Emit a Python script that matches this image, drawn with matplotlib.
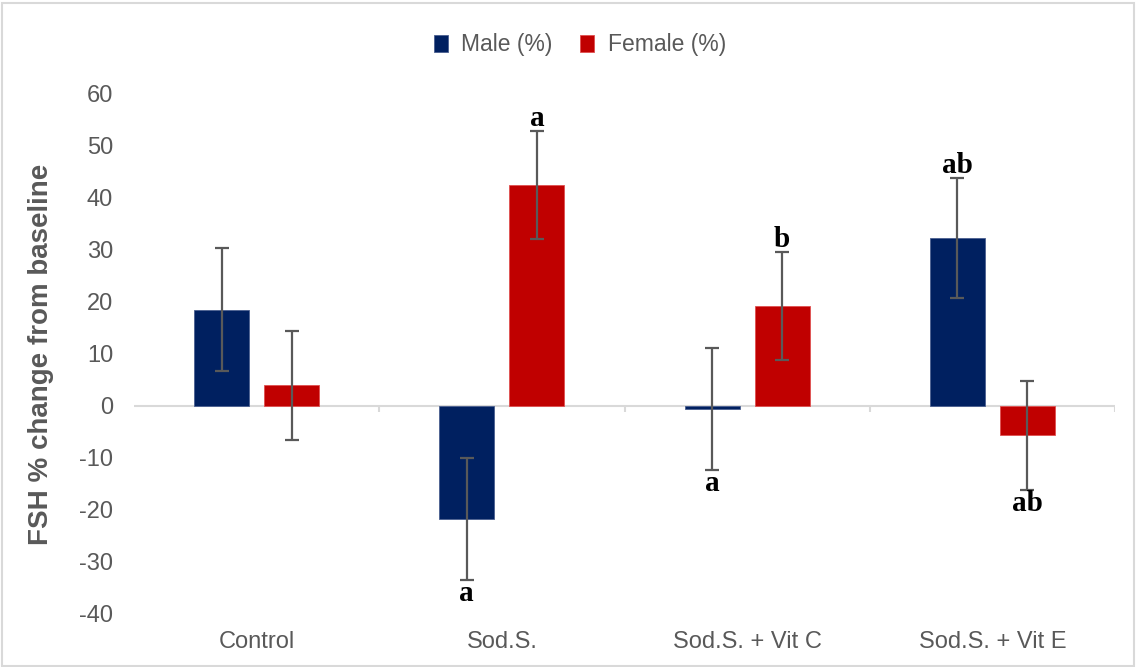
import matplotlib
matplotlib.use("Agg")
import matplotlib.pyplot as plt
from matplotlib.patches import Rectangle
import numpy as np

categories = ["Control", "Sod.S.", "Sod.S. + Vit C", "Sod.S. + Vit E"]
male = [18.5, -21.7, -0.6, 32.3]
male_err = [11.8, 11.7, 11.7, 11.6]
female = [4.0, 42.5, 19.2, -5.6]
female_err = [10.5, 10.4, 10.4, 10.5]
male_labels = ["", "a", "a", "ab"]
female_labels = ["", "a", "b", "ab"]
yticks = [-40, -30, -20, -10, 0, 10, 20, 30, 40, 50, 60]

plt.rcParams['font.family'] = ['Liberation Sans', 'DejaVu Sans']
W, H = 1136, 667
fig = plt.figure(figsize=(W / 100, H / 100), dpi=100)
ax = fig.add_axes([134 / W, 1 - 614 / H, (1115 - 134) / W, (614 - 94) / H])

x = np.arange(len(categories))
bw = 0.224
off = 0.143
gray = "#595959"
c_m, c_f = "#002060", "#C00000"

ax.bar(x - off, male, bw, color=c_m, edgecolor="#4a5f8f", linewidth=0.6, label="Male (%)", zorder=2)
ax.bar(x + off, female, bw, color=c_f, edgecolor="#e05050", linewidth=0.6, label="Female (%)", zorder=2)
ax.errorbar(x - off, male, yerr=male_err, fmt="none", ecolor=gray, elinewidth=1.6, capsize=5, capthick=1.6, zorder=3)
ax.errorbar(x + off, female, yerr=female_err, fmt="none", ecolor=gray, elinewidth=1.6, capsize=5, capthick=1.6, zorder=3)

ax.set_xlim(-0.5, len(categories) - 0.5)
ax.set_ylim(-40, 60)
ax.set_yticks(yticks)
ax.set_yticklabels([str(t) for t in yticks], color=gray, fontsize=17)
ax.tick_params(axis="y", length=0, pad=15)
ax.set_xticks(x)
ax.set_xticklabels(categories, color=gray, fontsize=17)
ax.tick_params(axis="x", length=0, pad=12)
for s in ax.spines.values():
    s.set_visible(False)

ax.axhline(0, color="#d9d9d9", linewidth=1.5, zorder=1)
bounds = np.arange(len(categories) + 1) - 0.5
ax.vlines(bounds[1:], 0, -1.2, color="#d9d9d9", linewidth=1.5, zorder=1)

ax.set_ylabel("FSH % change from baseline", fontsize=20, fontweight="bold", color=gray, labelpad=18)

def annotate(xs, vals, errs, labels):
    for xi, v, e, lab in zip(xs, vals, errs, labels):
        if not lab:
            continue
        if v >= 0:
            ax.annotate(lab, (xi, v + e), xytext=(0, 3.5), textcoords="offset points",
                        ha="center", va="baseline", fontsize=21, fontweight="bold",
                        family="Liberation Serif", color="black", zorder=4)
        else:
            ax.annotate(lab, (xi, v - e), xytext=(0, -15), textcoords="offset points",
                        ha="center", va="baseline", fontsize=21, fontweight="bold",
                        family="Liberation Serif", color="black", zorder=4)

annotate(x - off, male, male_err, male_labels)
annotate(x + off, female, female_err, female_labels)

fig.legend(loc="center", bbox_to_anchor=(580 / W, 1 - 45 / H), ncol=2, frameon=False,
           fontsize=16.5, handlelength=0.6, handleheight=0.7, handletextpad=0.6,
           columnspacing=1.2, labelcolor=gray)

fig.patches.append(Rectangle((0.002, 0.002), 0.996, 0.994, transform=fig.transFigure,
                             fill=False, edgecolor="#d9d9d9", linewidth=1.5))

fig.savefig("out.png", dpi=100, facecolor="white")
